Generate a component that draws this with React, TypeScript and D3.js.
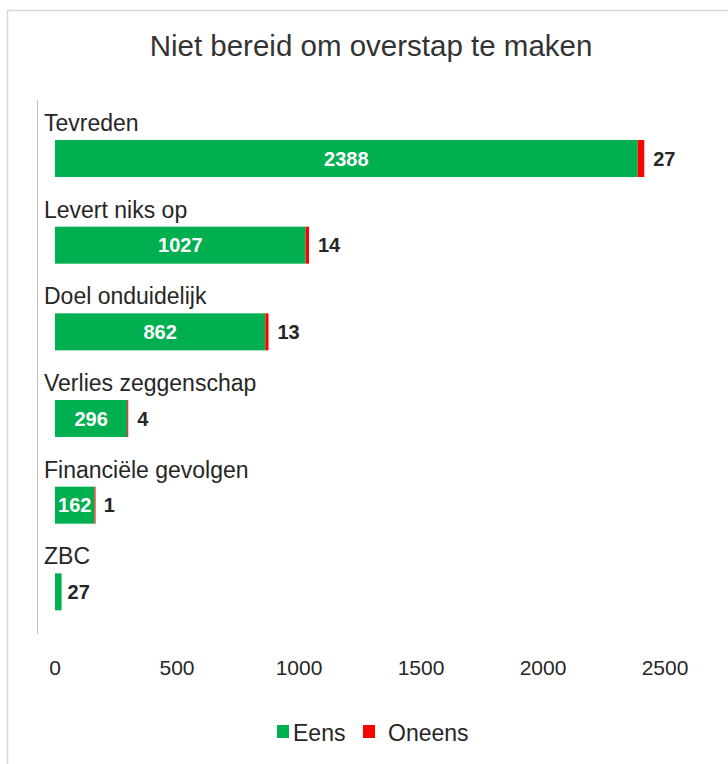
import React from "react";
import * as d3 from "d3";

const categories = ["Tevreden", "Levert niks op", "Doel onduidelijk", "Verlies zeggenschap", "Financiële gevolgen", "ZBC"];
const eens = [2388, 1027, 862, 296, 162, 27];
const oneens = [27, 14, 13, 4, 1, 0];
const ticks = [0, 500, 1000, 1500, 2000, 2500];
const seriesNames = ["Eens", "Oneens"];
const colors = ["#00B050", "#FF0000"];

const FONT = "'Liberation Sans', Arial, sans-serif";

export default function App() {
  const W = 728, H = 764;
  const x = d3.scaleLinear().domain([0, 2500]).range([55, 665]);
  const y = d3.scaleBand<string>().domain(categories).range([114, 634]);
  const step = y.step();
  const barOff = step * 0.3;
  const barH = 37;

  const rows = categories.map((c, i) => ({ c, e: eens[i], o: oneens[i] }));

  return (
    <svg width={W} height={H} style={{ position: "absolute", left: 0, top: 0, background: "#fff" }} fontFamily={FONT}>
      <rect x={7.5} y={10.5} width={W} height={H} fill="#fff" stroke="#d9d9d9" strokeWidth={1.5} />
      <text x={371} y={56} textAnchor="middle" fontSize={29.5} fill="#333">Niet bereid om overstap te maken</text>
      <line x1={37.5} x2={37.5} y1={100} y2={634} stroke="#bfbfbf" strokeWidth={1} />
      {rows.map((r, i) => {
        const top = (y(r.c) as number) + barOff;
        const cy = top + barH / 2;
        const xe = x(r.e);
        const xo = x(r.e + r.o);
        return (
          <g key={r.c}>
            <text x={44} y={top - 9} fontSize={23} fill="#262626">{r.c}</text>
            <rect x={x(0)} y={top} width={xe - x(0)} height={barH} fill={colors[0]} />
            {r.o > 0 && <rect x={xe} y={top} width={Math.max(xo - xe, 1)} height={barH} fill={colors[1]} />}
            {r.o > 0 ? (
              <>
                <text x={(x(0) + xe) / 2} y={cy} dy="0.36em" textAnchor="middle" fontSize={20} fontWeight="bold" fill="#fff">{r.e}</text>
                <text x={xo + 9} y={cy} dy="0.36em" fontSize={20} fontWeight="bold" fill="#262626">{r.o}</text>
              </>
            ) : (
              <text x={xe + 6} y={cy} dy="0.36em" fontSize={20} fontWeight="bold" fill="#262626">{r.e}</text>
            )}
          </g>
        );
      })}
      {ticks.map((t) => (
        <text key={t} x={x(t)} y={675} textAnchor="middle" fontSize={21} fill="#262626">{t}</text>
      ))}
      <g>
        <rect x={277} y={725} width={12} height={13} fill={colors[0]} />
        <text x={293} y={741} fontSize={23} fill="#262626">{seriesNames[0]}</text>
        <rect x={363} y={725} width={12} height={13} fill={colors[1]} />
        <text x={388} y={741} fontSize={23} fill="#262626">{seriesNames[1]}</text>
      </g>
    </svg>
  );
}
